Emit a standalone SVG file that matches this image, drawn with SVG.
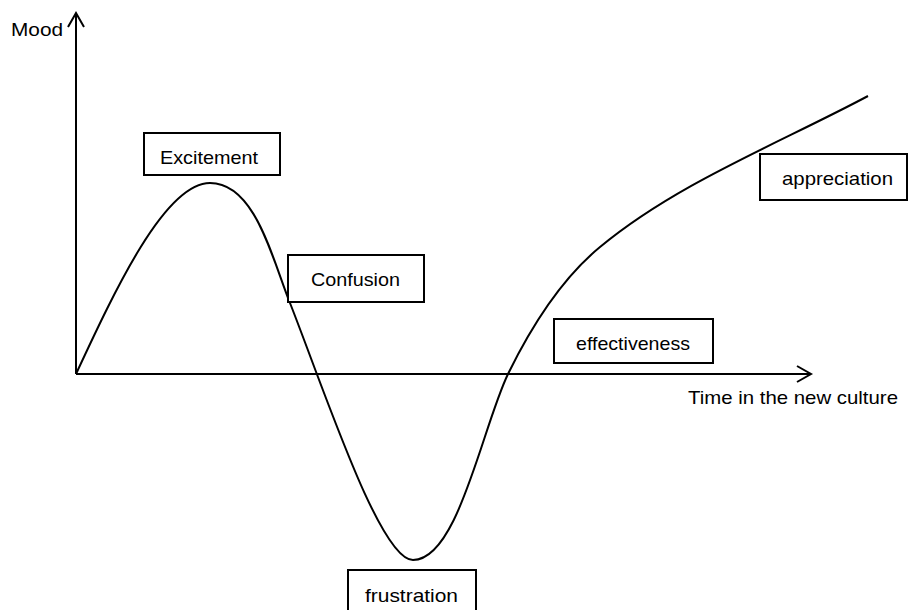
<svg xmlns="http://www.w3.org/2000/svg" width="908" height="610" viewBox="0 0 908 610">
<style>
.ax{fill:none;stroke:#000;stroke-width:2}
.box rect{fill:#fff;stroke:#000;stroke-width:2}
text{font-family:"Liberation Sans",Arial,sans-serif;font-size:18.5px;fill:#000}
</style>
<rect width="908" height="610" fill="#fff"/>
<g id="connectors">
<path class="ax" d="M76,374 V13 M68,27 L76,13 L84,27"/>
<path class="ax" d="M76,374 H811 M797,366 L811,374 L797,382"/>
<path class="ax" d="M76,374 C115,290 165,183 210,183 C255,183 272,258 290,303 C325,392 380,560 413,560 C458,560 482,428 508,374 C531,327 560,280 600,247 C677,183 780,143 868,96"/>
</g>
<g id="mood"><text x="11" y="36" textLength="52" lengthAdjust="spacingAndGlyphs">Mood</text></g>
<g id="time"><text x="688" y="404" textLength="210" lengthAdjust="spacingAndGlyphs">Time in the new culture</text></g>
<g id="excitement" class="box"><rect x="144" y="133" width="136" height="42"/><text x="160" y="164" textLength="98" lengthAdjust="spacingAndGlyphs">Excitement</text></g>
<g id="confusion" class="box"><rect x="288" y="255" width="136" height="47"/><text x="311" y="286" textLength="89" lengthAdjust="spacingAndGlyphs">Confusion</text></g>
<g id="frustration" class="box"><rect x="348" y="570" width="128" height="50"/><text x="365" y="602" textLength="93" lengthAdjust="spacingAndGlyphs">frustration</text></g>
<g id="effectiveness" class="box"><rect x="554" y="319" width="159" height="44"/><text x="576" y="350" textLength="114" lengthAdjust="spacingAndGlyphs">effectiveness</text></g>
<g id="appreciation" class="box"><rect x="760" y="154" width="147" height="46"/><text x="782" y="185" textLength="111" lengthAdjust="spacingAndGlyphs">appreciation</text></g>
</svg>
